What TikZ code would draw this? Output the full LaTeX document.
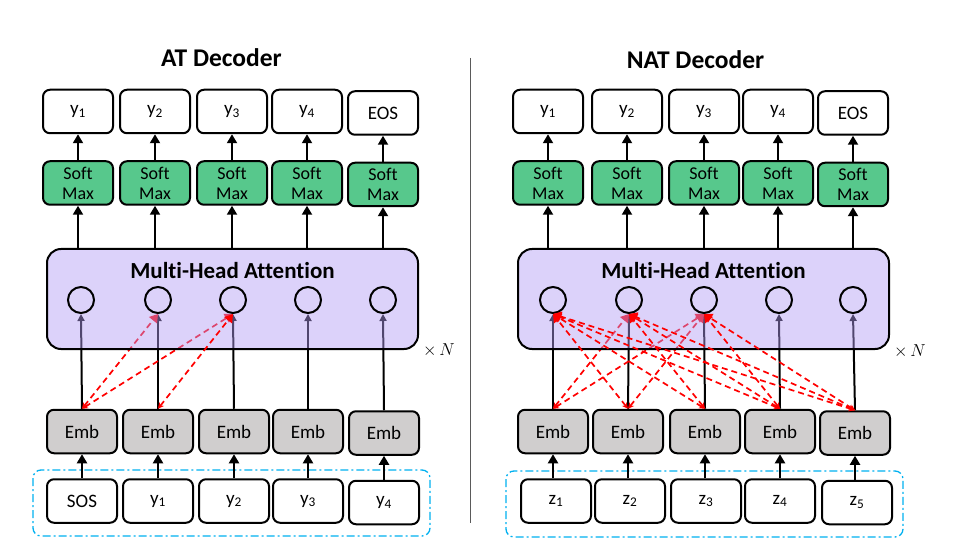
\documentclass[tikz,border=0pt]{standalone}
\usepackage{fontspec}
\setmainfont{Carlito}[Ligatures=CommonOff]
\usetikzlibrary{arrows.meta}
\definecolor{smgreen}{RGB}{87,200,140}
\definecolor{embgray}{RGB}{208,206,206}
\definecolor{grpblue}{RGB}{0,176,240}
\definecolor{mhabase}{RGB}{178,156,244}
\definecolor{divgray}{RGB}{90,90,90}
\newcommand{\lsub}[1]{\textsubscript{#1}}
\pgfdeclarelayer{background}
\pgfsetlayers{background,main}
\begin{document}
\begin{tikzpicture}[x=1pt,y=-1pt,
 box/.style={draw, line width=2pt, rounded corners=7pt, minimum width=70pt, minimum height=43.5pt, inner sep=0pt, font=\fontsize{19}{22}\selectfont},
 outbox/.style={box, fill=white},
 smbox/.style={box, fill=smgreen, align=center, font=\fontsize{18}{20}\selectfont},
 embbox/.style={box, fill=embgray},
 inbox/.style={box, fill=white},
 circ/.style={circle, draw, line width=2pt, minimum size=26pt, inner sep=0pt},
 mhabox/.style={draw, line width=2pt, rounded corners=14pt, fill=mhabase, fill opacity=0.45, minimum width=371pt, minimum height=100pt, inner sep=0pt},
 mhatitle/.style={font=\fontsize{23}{26}\selectfont\bfseries},
 arr/.style={line width=2pt, -{Triangle[length=9pt,width=10pt]}},
 inarr/.style={line width=2pt, -{Triangle[length=7pt,width=7pt]}},
 attn/.style={red, line width=1.7pt, dash pattern=on 6pt off 4pt, {Stealth[length=6pt,width=6pt]}-{Triangle[length=8pt,width=10pt]}},
 grp/.style={draw=grpblue, line width=1.3pt, rounded corners=8pt, dash pattern=on 8pt off 3pt on 2pt off 3pt},
 title/.style={font=\fontsize{25.5}{30}\selectfont\bfseries},
 timesn/.style={font=\fontsize{17}{20}\selectfont},
]
\useasboundingbox (0,0) rectangle (958,553);

% titles and divider
\node[title] (tAT) at (221.5,58) {AT Decoder};
\node[title] (tNAT) at (695.5,60) {NAT Decoder};
\coordinate (dtop) at (470,58);
\coordinate (dbot) at (470,523);
\draw[divgray, line width=0.8pt] (dtop) -- (dbot);

% ---------------- AT decoder ----------------
\node[mhabox] (mhaA) at (232.5,299) {};
\node[mhatitle] at (232.5,271) {Multi-Head Attention};
\node[timesn] (xnA) at (439,350) {$\times\, N$};
\draw[grp] (33,470) rectangle (430,536);

\foreach \i/\tx/\bx/\cx/\dy/\olab/\ilab in {
 1/78/82/81/0/{y\lsub{1}}/SOS,
 2/155/158/158/0/{y\lsub{2}}/{y\lsub{1}},
 3/232/234/233/0/{y\lsub{3}}/{y\lsub{2}},
 4/307/308/308/0/{y\lsub{4}}/{y\lsub{3}},
 5/383/384/383/1.5/EOS/{y\lsub{4}}}
{
 \node[outbox] (ay\i) at (\tx,111.5+\dy) {\olab};
 \node[smbox] (as\i) at (\tx,183+\dy) {Soft\\Max};
 \node[embbox] (ae\i) at (\bx,431.5+\dy) {Emb};
 \node[inbox] (ai\i) at (\bx,501+\dy) {\ilab};
 \node[circ] (ac\i) at (\cx,300) {};
 \draw[arr] (as\i) -- (ay\i);
 \draw[arr] (mhaA.north -| as\i.south) -- (as\i.south);
 \draw[arr] (ai\i) -- (ae\i);
}

% ---------------- NAT decoder ----------------
\node[mhabox] (mhaN) at (703.5,299) {};
\node[mhatitle] at (703.5,271) {Multi-Head Attention};
\node[timesn] (xnN) at (910,351) {$\times\, N$};
\draw[grp] (506,471) rectangle (903,537);

\foreach \i/\tx/\bx/\ix/\cx/\dy/\olab/\ilab in {
 1/548/553/556/553/0/{y\lsub{1}}/{z\lsub{1}},
 2/627/628/630/629/0/{y\lsub{2}}/{z\lsub{2}},
 3/704/705/706/704/0/{y\lsub{3}}/{z\lsub{3}},
 4/778/780/780/779/0/{y\lsub{4}}/{z\lsub{4}},
 5/853/855/857/853/1.5/EOS/{z\lsub{5}}}
{
 \node[outbox] (ny\i) at (\tx,111.5+\dy) {\olab};
 \node[smbox] (ns\i) at (\tx,183+\dy) {Soft\\Max};
 \node[embbox] (ne\i) at (\bx,431.5+\dy) {Emb};
 \node[inbox] (ni\i) at (\ix,501+\dy) {\ilab};
 \node[circ] (nc\i) at (\cx,300) {};
 \draw[arr] (ns\i) -- (ny\i);
 \draw[arr] (mhaN.north -| ns\i.south) -- (ns\i.south);
 \draw[arr] (ni\i.north -| ne\i.south) -- (ne\i.south);
}

% ---------------- connections behind the attention box ----------------
\begin{pgfonlayer}{background}
 \foreach \i in {1,...,5}{
  \draw[inarr] (ae\i.north) -- (ac\i.south);
  \draw[inarr] (ne\i.north) -- (nc\i.south);
 }
 \draw[attn] (ae1.north) -- (ac2.south);
 \draw[attn] (ae1.north) -- (ac3.south);
 \draw[attn] (ne1.north) -- (nc2.south);
 \draw[attn] (ne1.north) -- (nc3.south);
 \draw[attn] (ne2.north) -- (nc3.south);
\end{pgfonlayer}

% ---------------- connections in front ----------------
\draw[attn] (ae2.north) -- (ac3.south);
\foreach \c/\e in {1/2,1/3,1/4,1/5,2/3,2/4,2/5,3/4,3/5}{
 \draw[attn] (ne\e.north) -- (nc\c.south);
}
\end{tikzpicture}
\end{document}
